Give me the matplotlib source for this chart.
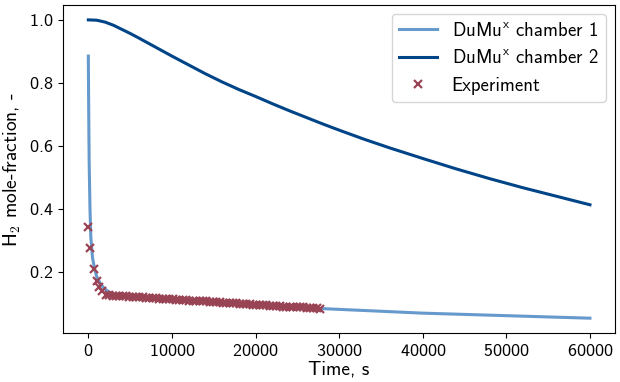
import matplotlib
matplotlib.use('Agg')
import matplotlib.pyplot as plt

# DuMux simulation, chamber 1
t_ch1 = [0, 50, 100, 200, 300, 500, 750, 1000, 1500, 2000, 2500, 3000, 4000,
         5000, 7500, 10000, 15000, 20000, 25000, 27500, 30000, 35000, 40000,
         45000, 50000, 55000, 60000]
x_ch1 = [0.885, 0.70, 0.55, 0.40, 0.31, 0.245, 0.21, 0.185, 0.160, 0.145,
         0.136, 0.130, 0.124, 0.121, 0.115, 0.110, 0.101, 0.093, 0.087, 0.084,
         0.081, 0.075, 0.069, 0.065, 0.061, 0.057, 0.053]

# DuMux simulation, chamber 2
t_ch2 = [0, 1000, 2000, 3000, 4000, 5000, 6000, 8000, 10000, 12000, 14000,
         16000, 18000, 20000, 22000, 24000, 26000, 28000, 30000, 33000, 36000,
         40000, 44000, 48000, 52000, 56000, 60000]
x_ch2 = [1.000, 0.999, 0.993, 0.983, 0.970, 0.957, 0.943, 0.914, 0.885, 0.857,
         0.829, 0.803, 0.779, 0.757, 0.734, 0.712, 0.691, 0.670, 0.650, 0.621,
         0.594, 0.560, 0.527, 0.496, 0.467, 0.440, 0.413]

# measurements
t_exp = [0, 240, 630, 1040, 1310, 1670,
         2100, 2500, 2900, 3300, 3700, 4100, 4500, 4900, 5300, 5700, 6100,
         6500, 6900, 7300, 7700, 8100, 8500, 8900, 9300, 9700, 10100, 10500,
         10900, 11300, 11700, 12100, 12500, 12900, 13300, 13700, 14100, 14500,
         14900, 15300, 15700, 16100, 16500, 16900, 17300, 17700, 18100, 18500,
         18900, 19300, 19700, 20100, 20500, 20900, 21300, 21700, 22100, 22500,
         22900, 23300, 23700, 24100, 24500, 24900, 25300, 25700, 26100, 26500,
         26900, 27300, 27700]
x_exp = [0.341, 0.276, 0.209, 0.172, 0.153, 0.138,
         0.128, 0.127, 0.125, 0.124, 0.123, 0.123, 0.122, 0.121, 0.121, 0.120,
         0.119, 0.119, 0.118, 0.117, 0.117, 0.116, 0.115, 0.115, 0.114, 0.113,
         0.113, 0.112, 0.111, 0.111, 0.110, 0.109, 0.109, 0.108, 0.107, 0.107,
         0.106, 0.105, 0.104, 0.104, 0.103, 0.102, 0.102, 0.101, 0.100, 0.100,
         0.099, 0.098, 0.098, 0.097, 0.096, 0.096, 0.095, 0.094, 0.094, 0.093,
         0.092, 0.092, 0.091, 0.090, 0.090, 0.089, 0.088, 0.088, 0.087, 0.087,
         0.086, 0.085, 0.085, 0.084, 0.083]

plt.rcParams['font.family'] = ['cmss10', 'DejaVu Sans']
plt.rcParams['mathtext.fontset'] = 'cm'
plt.rcParams['axes.formatter.use_mathtext'] = True
plt.rcParams['font.size'] = 14
plt.rcParams['xtick.labelsize'] = 13
plt.rcParams['ytick.labelsize'] = 13

fig, ax = plt.subplots(figsize=(6.2, 3.82), dpi=100)
fig.subplots_adjust(left=0.102, right=0.992, top=0.987, bottom=0.128)

ax.plot(t_ch1, x_ch1, color='#6699CC', lw=2.2, label=r'DuMu$^\mathsf{x}$ chamber 1')
ax.plot(t_ch2, x_ch2, color='#004488', lw=2.2, label=r'DuMu$^\mathsf{x}$ chamber 2')
ax.plot(t_exp, x_exp, 'x', color='#994455', ms=6, mew=1.6, ls='none', label='Experiment')

ax.set_xlabel('Time, s', labelpad=1)
ax.set_ylabel(r'H$_\mathsf{2}$ mole-fraction, -', labelpad=4)
ax.set_yticks([0.2, 0.4, 0.6, 0.8, 1.0])
ax.legend(loc='upper right', fontsize=13.5)

fig.savefig('out.png', dpi=100)
